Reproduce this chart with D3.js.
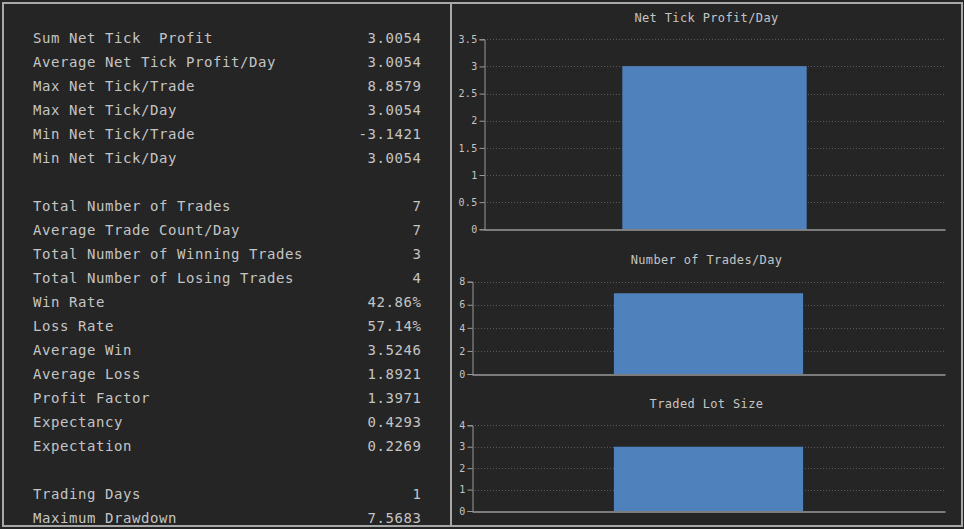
<!DOCTYPE html>
<html>
<head>
<meta charset="utf-8">
<script src="https://cdn.jsdelivr.net/npm/d3@7"></script>
<style>
html,body{margin:0;padding:0;background:#252525;}
svg{display:block;}
text{white-space:pre;}
</style>
</head>
<body>
<svg id="c" width="964" height="529"></svg>
<script>
// ---- data ----
const statLabels = [
  "Sum Net Tick  Profit","Average Net Tick Profit/Day","Max Net Tick/Trade","Max Net Tick/Day",
  "Min Net Tick/Trade","Min Net Tick/Day","",
  "Total Number of Trades","Average Trade Count/Day","Total Number of Winning Trades",
  "Total Number of Losing Trades","Win Rate","Loss Rate","Average Win","Average Loss",
  "Profit Factor","Expectancy","Expectation","",
  "Trading Days","Maximum Drawdown"
];
const statValues = [
  "3.0054","3.0054","8.8579","3.0054","-3.1421","3.0054","",
  "7","7","3","4","42.86%","57.14%","3.5246","1.8921","1.3971","0.4293","0.2269","",
  "1","7.5683"
];
const days = ["Day 1"];
const netTickProfitPerDay = [3.0054];
const tradesPerDay = [7];
const tradedLotSize = [3];
const ticks1 = [0,0.5,1,1.5,2,2.5,3,3.5];
const ticks2 = [0,2,4,6,8];
const ticks3 = [0,1,2,3,4];

// ---- drawing ----
const svg = d3.select("#c");
const W = 964, H = 529;
const bg = "#252525", textCol = "#c4c4c4", axisCol = "#9a9a9a", gridCol = "#5a5a5a", barCol = "#4f81bd";
const mono = "'DejaVu Sans Mono', 'Liberation Mono', monospace";

svg.append("rect").attr("width", W).attr("height", H).attr("fill", bg);
// outer border + divider
svg.append("rect").attr("x", 3).attr("y", 3).attr("width", 959).attr("height", 523)
  .attr("fill", "none").attr("stroke", "#a8a8a8").attr("stroke-width", 2);
svg.append("line").attr("x1", 451).attr("x2", 451).attr("y1", 3).attr("y2", 526)
  .attr("stroke", "#a8a8a8").attr("stroke-width", 2);

// stats table
const rowY = d3.scaleLinear().domain([0, 1]).range([38, 62]);
const stats = svg.append("g");
statLabels.forEach((lab, i) => {
  if (!lab) return;
  const y = rowY(i);
  stats.append("text").attr("x", 33).attr("y", y).attr("dy", "0.36em")
    .attr("xml:space", "preserve")
    .attr("fill", textCol).attr("font-family", mono).attr("font-size", 14)
    .attr("letter-spacing", 0.57).text(lab);
  stats.append("text").attr("x", 421.6).attr("y", y).attr("dy", "0.36em")
    .attr("text-anchor", "end")
    .attr("fill", textCol).attr("font-family", mono).attr("font-size", 14)
    .attr("letter-spacing", 0.57).text(statValues[i]);
});

function barChart(cfg) {
  const g = svg.append("g");
  const x = d3.scaleBand().domain(days).range([cfg.x0, 945]).paddingInner(0).paddingOuter(0.75);
  const y = d3.scaleLinear().domain([0, d3.max(cfg.ticks)]).range([cfg.yBottom, cfg.yTop]);
  // title
  g.append("text").attr("x", 706.5).attr("y", cfg.titleY).attr("dy", "0.36em")
    .attr("text-anchor", "middle").attr("fill", textCol).attr("font-family", mono)
    .attr("font-size", 12).attr("letter-spacing", 0.36).text(cfg.title);
  // grid
  g.append("g").selectAll("line").data(cfg.ticks.filter(t => t > 0)).join("line")
    .attr("x1", cfg.x0).attr("x2", 945)
    .attr("y1", d => Math.round(y(d)) + 0.5).attr("y2", d => Math.round(y(d)) + 0.5)
    .attr("stroke", gridCol).attr("stroke-dasharray", "1,2");
  // bars
  g.append("g").selectAll("rect").data(cfg.values).join("rect")
    .attr("x", (d, i) => x(days[i])).attr("width", x.bandwidth())
    .attr("y", d => y(d)).attr("height", d => y(0) - y(d)).attr("fill", barCol);
  // y axis
  const ax = g.append("g").attr("transform", `translate(${cfg.x0 + 0.5},0)`)
    .call(d3.axisLeft(y).tickValues(cfg.ticks).tickFormat(d3.format("~g")).tickSize(5).tickPadding(2));
  ax.select(".domain").attr("stroke", axisCol);
  ax.selectAll(".tick line").attr("stroke", axisCol);
  ax.selectAll(".tick text").attr("fill", textCol).attr("font-family", mono)
    .attr("font-size", 10).attr("letter-spacing", 0.3);
  // x axis
  const bx = g.append("g").attr("transform", `translate(0,${Math.round(y(0)) + 0.5})`)
    .call(d3.axisBottom(x).tickSize(0).tickFormat(""));
  bx.select(".domain").attr("stroke", axisCol).attr("stroke-width", 1.5);
}

barChart({title: "Net Tick Profit/Day", titleY: 18, x0: 484, yTop: 39.3, yBottom: 229.3, ticks: ticks1, values: netTickProfitPerDay});
barChart({title: "Number of Trades/Day", titleY: 260, x0: 472, yTop: 281.7, yBottom: 374, ticks: ticks2, values: tradesPerDay});
barChart({title: "Traded Lot Size", titleY: 404, x0: 472, yTop: 425.3, yBottom: 511, ticks: ticks3, values: tradedLotSize});
</script>
</body>
</html>
